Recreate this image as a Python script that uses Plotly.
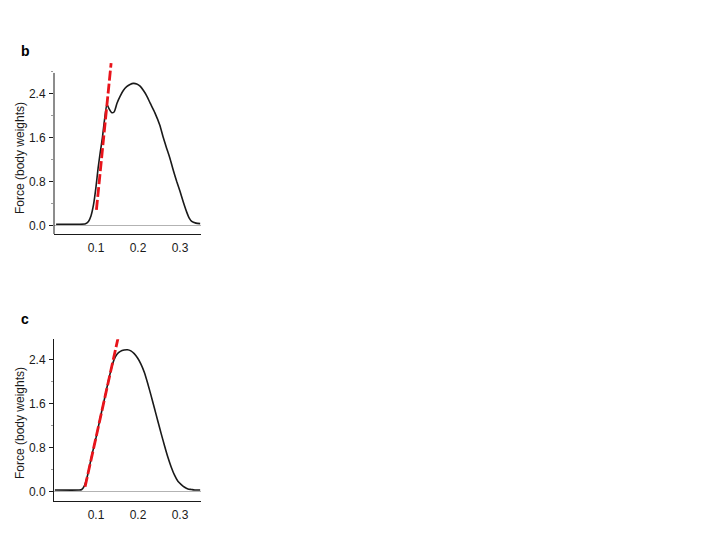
import plotly.graph_objects as go

# ---- data ----
b_time = [0.005, 0.060, 0.075, 0.082, 0.088, 0.094, 0.100, 0.105, 0.110, 0.115, 0.120, 0.126,
          0.131, 0.137, 0.143, 0.150, 0.157, 0.165, 0.173, 0.181, 0.189, 0.197, 0.205, 0.213,
          0.221, 0.229, 0.240, 0.252, 0.260, 0.267, 0.276, 0.284, 0.292, 0.300, 0.308, 0.316,
          0.322, 0.328, 0.338, 0.348]
b_force = [0.02, 0.02, 0.03, 0.07, 0.17, 0.37, 0.70, 1.04, 1.32, 1.58, 1.90, 2.20,
           2.12, 2.05, 2.06, 2.22, 2.34, 2.45, 2.52, 2.56, 2.58, 2.57, 2.53, 2.45,
           2.35, 2.22, 2.05, 1.82, 1.60, 1.43, 1.22, 1.00, 0.80, 0.62, 0.42, 0.24,
           0.13, 0.07, 0.04, 0.03]
b_fit_time = [0.101, 0.136]
b_fit_force = [0.28, 2.95]

c_time = [0.002, 0.060, 0.066, 0.072, 0.080, 0.090, 0.100, 0.110, 0.120, 0.130, 0.137, 0.143,
          0.150, 0.158, 0.167, 0.175, 0.183, 0.191, 0.199, 0.207, 0.215, 0.223, 0.231, 0.239,
          0.247, 0.255, 0.263, 0.271, 0.279, 0.287, 0.295, 0.303, 0.311, 0.319, 0.327, 0.335,
          0.348]
c_force = [0.03, 0.03, 0.04, 0.10, 0.30, 0.66, 0.98, 1.34, 1.68, 2.03, 2.25, 2.40,
           2.50, 2.55, 2.575, 2.58, 2.56, 2.51, 2.43, 2.32, 2.17, 1.97, 1.75, 1.52,
           1.29, 1.06, 0.84, 0.63, 0.45, 0.30, 0.19, 0.13, 0.08, 0.05, 0.04, 0.03,
           0.03]
c_fit_time = [0.074, 0.153]
c_fit_force = [0.09, 2.81]

x_ticks = [0.1, 0.2, 0.3]
y_ticks = [0.0, 0.8, 1.6, 2.4]
panel_labels = ["b", "c"]
y_title = "Force (body weights)"

W, H = 720, 540
OFF = 8  # default page margin of the html body
FONT = "Liberation Sans, Arial, Helvetica, sans-serif"
BLACK = "#1a1a1a"
RED = "#e8141b"


def px_x(p):
    return (p - OFF) / W


def px_y(p):
    return 1 - (p - OFF) / H


fig = go.Figure()


def add_panel(t, f, ft, ff, xa, ya):
    fig.add_trace(go.Scatter(x=t, y=f, mode="lines", xaxis=xa, yaxis=ya,
                             line=dict(color=BLACK, width=1.6, shape="spline", smoothing=0.6),
                             showlegend=False, hoverinfo="skip"))
    fig.add_trace(go.Scatter(x=ft, y=ff, mode="lines", xaxis=xa, yaxis=ya,
                             line=dict(color=RED, width=2.8, dash="10px,3px"),
                             showlegend=False, hoverinfo="skip"))


add_panel(b_time, b_force, b_fit_time, b_fit_force, "x", "y")
add_panel(c_time, c_force, c_fit_time, c_fit_force, "x2", "y2")

xdom = [px_x(54), px_x(201)]
# panel b plot area: pixel y 60 (room for the fit line) to 234 (x axis)
b_dom = [px_y(234), px_y(60)]
b_range = [-0.158, -0.158 + (234 - 60) / 55.0]
# panel c plot area: pixel y 339.3 to 500.7
c_dom = [px_y(500.7), px_y(339.3)]
c_range = [-0.164, 2.77]

xcommon = dict(range=[0, 0.35], tickvals=x_ticks, ticktext=[f"{v:.1f}" for v in x_ticks],
               showgrid=False, zeroline=False, showline=True, linecolor=BLACK, linewidth=1,
               ticks="", tickfont=dict(size=12, color=BLACK, family=FONT), ticklabelstandoff=3)
ycommon = dict(tickvals=y_ticks, ticktext=[f"{v:.1f}" for v in y_ticks],
               showgrid=False, zeroline=True, zerolinecolor="#b3b3b3", zerolinewidth=1,
               ticks="outside", ticklen=4, tickcolor=BLACK, tickwidth=1,
               minor=dict(ticks="outside", ticklen=2, tickcolor="#9a9a9a", dtick=0.4, tick0=0),
               tickfont=dict(size=12, color=BLACK, family=FONT), ticklabelstandoff=1)

fig.update_layout(
    width=W, height=H, margin=dict(l=0, r=0, t=0, b=0),
    paper_bgcolor="white", plot_bgcolor="white",
    xaxis=dict(domain=xdom, anchor="y", **xcommon),
    yaxis=dict(domain=b_dom, anchor="x", range=b_range, showline=False, **ycommon),
    xaxis2=dict(domain=xdom, anchor="y2", **xcommon),
    yaxis2=dict(domain=c_dom, anchor="x2", range=c_range, showline=True, linecolor=BLACK,
                linewidth=1, **ycommon),
)

# y axis line for panel b (stops below the top of the fit line)
fig.add_shape(type="line", xref="paper", yref="y", x0=xdom[0], x1=xdom[0], y0=b_range[0], y1=2.77,
              line=dict(color=BLACK, width=1), layer="above")

# panel letters and y titles
for lab, ypx in zip(panel_labels, [51, 319]):
    fig.add_annotation(text=f"<b>{lab}</b>", xref="paper", yref="paper", x=px_x(25), y=px_y(ypx),
                       showarrow=False, font=dict(size=14, color="black", family=FONT),
                       xanchor="center", yanchor="middle")
for ypx in [158, 423]:
    fig.add_annotation(text=y_title, xref="paper", yref="paper", x=px_x(20), y=px_y(ypx),
                       showarrow=False, textangle=-90, font=dict(size=12, color=BLACK, family=FONT),
                       xanchor="center", yanchor="middle")

fig.write_html("out.html")
